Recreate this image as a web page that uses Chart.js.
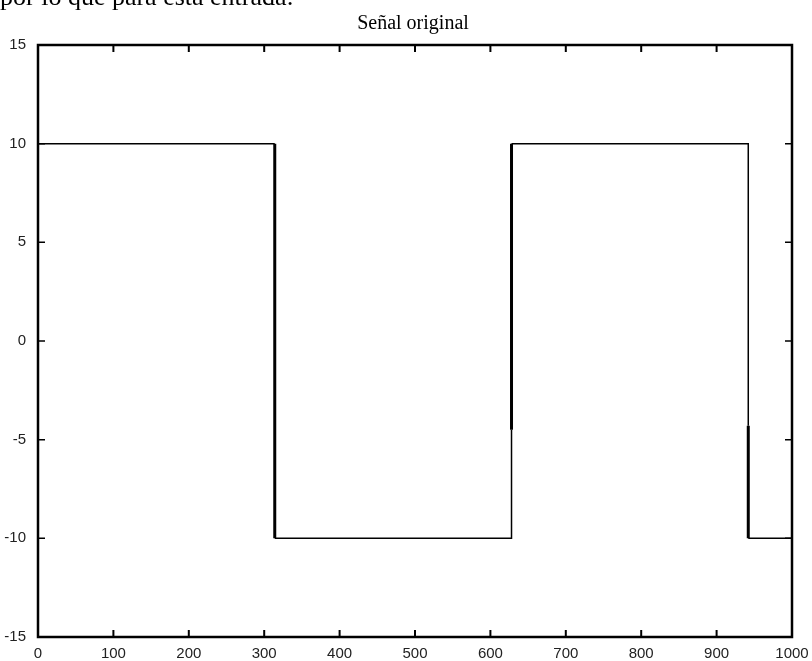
<!DOCTYPE html>
<html>
<head>
<meta charset="utf-8">
<script src="https://cdn.jsdelivr.net/npm/chart.js@4/dist/chart.umd.min.js"></script>
<style>
  html, body { margin: 0; padding: 0; background: #fff; overflow: hidden; }
  #wrap { position: relative; width: 812px; height: 661px; }
  #above {
    position: absolute; left: 0; top: -16px;
    font-family: "Liberation Serif", "Times New Roman", serif;
    font-size: 26px; line-height: 26px; color: #000; white-space: nowrap;
  }
</style>
</head>
<body>
<div id="wrap">
  <div id="above">por lo que para esta entrada:</div>
  <canvas id="myChart" width="812" height="661"></canvas>
</div>
<script>
// signal samples
const sampleX = [0, 314, 314, 628, 628, 628, 942, 942, 942, 1000];
const sampleY = [10, 10, -10, -10, -4.5, 10, 10, -4.3, -10, -10];
const xTicks = [0, 100, 200, 300, 400, 500, 600, 700, 800, 900, 1000];
const yTicks = [-15, -10, -5, 0, 5, 10, 15];
// thicker strokes where the plot shows doubled vertical edges
const segWidths = [1.5, 3, 1.5, 1.5, 3, 1.5, 1.5, 3, 1.5];
const chartTitle = 'Señal original';

const points = sampleX.map((x, i) => ({ x: x, y: sampleY[i] }));

// matlab-like box with inward ticks on all four sides, title over the axes
const boxTicks = {
  id: 'boxTicks',
  afterDraw(chart) {
    const { ctx, chartArea: a, scales } = chart;
    ctx.save();
    ctx.strokeStyle = '#000';
    ctx.lineWidth = 2;
    xTicks.forEach(v => {
      const px = scales.x.getPixelForValue(v);
      ctx.beginPath();
      ctx.moveTo(px, a.bottom); ctx.lineTo(px, a.bottom - 7);
      ctx.moveTo(px, a.top); ctx.lineTo(px, a.top + 7);
      ctx.stroke();
    });
    ctx.lineWidth = 1.5;
    yTicks.forEach(v => {
      const py = scales.y.getPixelForValue(v);
      ctx.beginPath();
      ctx.moveTo(a.left, py); ctx.lineTo(a.left + 7, py);
      ctx.moveTo(a.right, py); ctx.lineTo(a.right - 7, py);
      ctx.stroke();
    });
    ctx.lineWidth = 2.5;
    ctx.strokeRect(a.left, a.top, a.right - a.left, a.bottom - a.top);

    ctx.fillStyle = '#000';
    ctx.font = '20px "Liberation Serif", "Times New Roman", serif';
    ctx.textAlign = 'center';
    ctx.textBaseline = 'alphabetic';
    ctx.fillText(chartTitle, (a.left + a.right) / 2 - 2, 29);
    ctx.restore();
  }
};

const ctx = document.getElementById('myChart').getContext('2d');
const myChart = new Chart(ctx, {
  type: 'scatter',
  data: {
    datasets: [{
      data: points,
      showLine: true,
      borderColor: '#000',
      borderWidth: 1.5,
      pointRadius: 0,
      tension: 0,
      segment: {
        borderWidth: c => segWidths[c.p0DataIndex]
      }
    }]
  },
  options: {
    responsive: false,
    animation: false,
    layout: { padding: { top: 45, right: 20, left: 0, bottom: 0 } },
    plugins: {
      legend: { display: false },
      tooltip: { enabled: false },
      title: { display: false }
    },
    scales: {
      x: {
        type: 'linear',
        min: 0, max: 1000,
        afterBuildTicks: s => { s.ticks = xTicks.map(v => ({ value: v })); },
        afterFit: s => { s.height = 24; },
        grid: { display: false },
        border: { display: false },
        ticks: {
          color: '#222', padding: 0, maxRotation: 0,
          callback: v => String(v),
          font: { family: '"Liberation Sans", Arial, sans-serif', size: 15 }
        }
      },
      y: {
        type: 'linear',
        min: -15, max: 15,
        afterBuildTicks: s => { s.ticks = yTicks.map(v => ({ value: v })); },
        afterFit: s => { s.width = 38; },
        grid: { display: false },
        border: { display: false },
        ticks: {
          color: '#222', padding: 4,
          callback: v => String(v),
          font: { family: '"Liberation Sans", Arial, sans-serif', size: 15 }
        }
      }
    }
  },
  plugins: [boxTicks]
});
</script>
</body>
</html>
